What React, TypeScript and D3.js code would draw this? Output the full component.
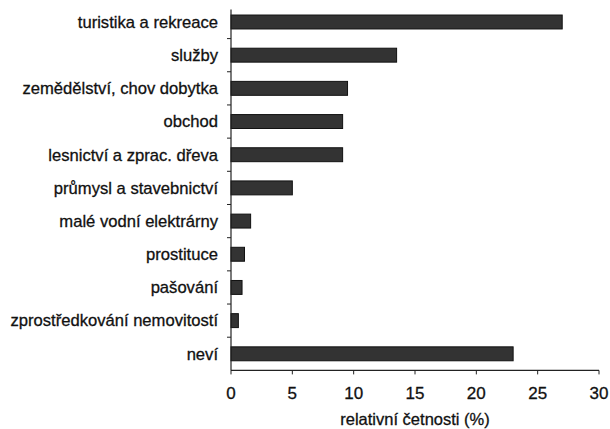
import React from "react";
import * as d3 from "d3";

const categories = [
  "turistika a rekreace",
  "služby",
  "zemědělství, chov dobytka",
  "obchod",
  "lesnictví a zprac. dřeva",
  "průmysl a stavebnictví",
  "malé vodní elektrárny",
  "prostituce",
  "pašování",
  "zprostředkování nemovitostí",
  "neví",
];
const values = [27, 13.5, 9.5, 9.1, 9.1, 5, 1.6, 1.1, 0.9, 0.6, 23];
const xTicks = [0, 5, 10, 15, 20, 25, 30];
const xTitle = "relativní četnosti (%)";

const W = 610;
const H = 429;
const left = 231;
const right = 599;
const top = 5.4;
const bottom = 370.4;

export default function App() {
  const x = d3.scaleLinear().domain([0, 30]).range([left, right]);
  const y = d3
    .scaleBand<string>()
    .domain(categories)
    .range([top, bottom])
    .paddingInner(0.58)
    .paddingOuter(0.29);
  const step = y.step();
  const font = "'Liberation Sans', Arial, sans-serif";
  const txt = { fill: "#111", stroke: "#111", strokeWidth: 0.3 };
  return (
    <svg
      width={W}
      height={H}
      style={{ position: "absolute", left: 0, top: 0, background: "#fff" }}
      fontFamily={font}
    >
      {categories.map((c, i) => (
        <g key={c}>
          <rect
            x={x(0)}
            y={y(c)!}
            width={x(values[i]) - x(0)}
            height={y.bandwidth()}
            fill="#333"
            stroke="#111"
            strokeWidth={1}
          />
          <text
            x={218}
            y={y(c)! + y.bandwidth() / 2}
            dy="0.35em"
            textAnchor="end"
            fontSize={16.6}
            {...txt}
          >
            {c}
          </text>
        </g>
      ))}
      {/* y axis */}
      <line x1={left} x2={left} y1={top + 4} y2={bottom} stroke="#222" strokeWidth={1.2} />
      {d3.range(1, categories.length).map((k) => (
        <line
          key={k}
          x1={left - 4}
          x2={left}
          y1={top + k * step}
          y2={top + k * step}
          stroke="#222"
          strokeWidth={1}
        />
      ))}
      {/* x axis */}
      <line x1={left} x2={right} y1={bottom} y2={bottom} stroke="#222" strokeWidth={1.2} />
      {xTicks.map((t) => (
        <g key={t}>
          <line x1={x(t)} x2={x(t)} y1={bottom} y2={bottom + 4} stroke="#222" strokeWidth={1} />
          <text x={x(t)} y={399} textAnchor="middle" fontSize={17} {...txt}>
            {t}
          </text>
        </g>
      ))}
      <text x={(340 + 490) / 2} y={425} textAnchor="middle" fontSize={16.5} {...txt}>
        {xTitle}
      </text>
    </svg>
  );
}
